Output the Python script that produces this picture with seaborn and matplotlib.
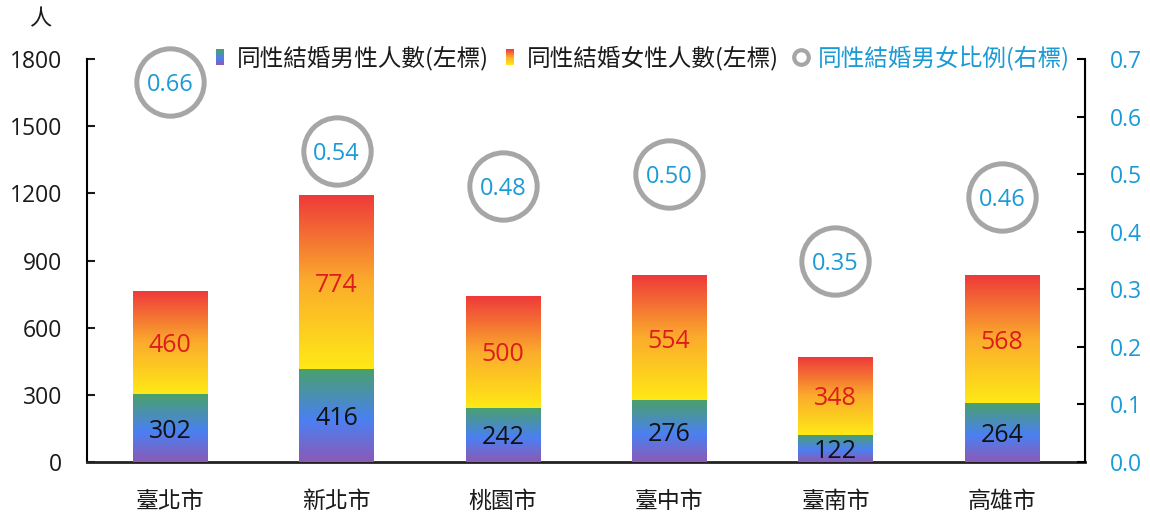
import numpy as np
import pandas as pd
import matplotlib
matplotlib.use("Agg")
import matplotlib.pyplot as plt
from matplotlib.colors import LinearSegmentedColormap
from matplotlib.patches import Rectangle
from matplotlib.lines import Line2D
from matplotlib.legend_handler import HandlerBase
import seaborn as sns

# ---- data ----
cities = ["臺北市", "新北市", "桃園市", "臺中市", "臺南市", "高雄市"]
male = [302, 416, 242, 276, 122, 264]
female = [460, 774, 500, 554, 348, 568]
ratio = [0.66, 0.54, 0.48, 0.50, 0.35, 0.46]
left_ticks = [0, 300, 600, 900, 1200, 1500, 1800]
right_ticks = [0.0, 0.1, 0.2, 0.3, 0.4, 0.5, 0.6, 0.7]
legend_labels = ["同性結婚男性人數(左標)", "同性結婚女性人數(左標)", "同性結婚男女比例(右標)"]
unit_label = "人"

df = pd.DataFrame({"city": cities, "male": male, "female": female, "ratio": ratio})
df["total"] = df["male"] + df["female"]

sns.set_style("white")
plt.rcParams["font.family"] = ["Open Sans", "Noto Sans CJK TC", "DejaVu Sans"]
CJK = ["Noto Sans CJK TC", "DejaVu Sans"]

BLUE = "#1a9ad6"
GREY = "#a6a6a6"
RED_TXT = "#dd1c1c"

male_cmap = LinearSegmentedColormap.from_list(
    "male", [(0.0, "#8b5ab6"), (0.45, "#4b80f2"), (1.0, "#49a16a")])
female_cmap = LinearSegmentedColormap.from_list(
    "female", [(0.0, "#ffe916"), (0.5, "#fbac2c"), (1.0, "#ee3a3a")])

fig = plt.figure(figsize=(11.5, 5.13), dpi=100)
ax = fig.add_axes([87 / 1150, 1 - 462 / 513, (1085 - 87) / 1150, (462 - 59) / 513])

bar_w = 0.445
sns.barplot(data=df, x="city", y="total", color="#fbac2c", width=bar_w,
            saturation=1, ax=ax, zorder=2)
sns.barplot(data=df, x="city", y="male", color="#4b80f2", width=bar_w,
            saturation=1, ax=ax, zorder=2)

total_patches = ax.patches[:len(cities)]
male_patches = ax.patches[len(cities):2 * len(cities)]

# gradient fills laid over each bar segment
grad = np.linspace(0, 1, 256).reshape(-1, 1)
for tp, mp in zip(total_patches, male_patches):
    x0, w = tp.get_x(), tp.get_width()
    m_top = mp.get_height()
    t_top = tp.get_height()
    ax.imshow(grad, cmap=male_cmap, extent=[x0, x0 + w, 0, m_top],
              origin="lower", aspect="auto", zorder=3, interpolation="bilinear")
    ax.imshow(grad, cmap=female_cmap, extent=[x0, x0 + w, m_top, t_top],
              origin="lower", aspect="auto", zorder=3, interpolation="bilinear")

# value labels inside the segments
for i, row in df.iterrows():
    ax.text(i, row["male"] / 2, f"{row['male']}", ha="center",
            va="center_baseline", fontsize=18, color="#111111", zorder=5)
    ax.text(i, row["male"] + row["female"] / 2, f"{row['female']}", ha="center",
            va="center_baseline", fontsize=18, color=RED_TXT, zorder=5)

ax.set_xlim(-0.5, len(cities) - 0.5)
ax.set_ylim(0, 1800)
ax.set_yticks(left_ticks)
ax.set_yticklabels([str(t) for t in left_ticks])
ax.set_xlabel("")
ax.set_ylabel("")
ax.tick_params(axis="y", direction="in", length=6, width=1.5, pad=18,
               labelsize=16.5, colors="#1a1a1a", left=True)
ax.tick_params(axis="x", length=0, pad=20, labelsize=16.5, colors="#1a1a1a")
for lab in ax.get_xticklabels():
    lab.set_fontfamily(CJK)

ax.spines["top"].set_visible(False)
ax.spines["left"].set_color("#000000")
ax.spines["left"].set_linewidth(1.5)
ax.spines["bottom"].set_color("#222222")
ax.spines["bottom"].set_linewidth(2)

# ratio axis
ax2 = ax.twinx()
ax2.set_ylim(0, 0.7)
sns.scatterplot(x=np.arange(len(cities)), y=df["ratio"], ax=ax2, s=2350,
                facecolor="white", edgecolor=GREY, linewidth=3.6, zorder=4,
                legend=False, clip_on=False)
for i, r in enumerate(ratio):
    ax2.text(i, r, f"{r:.2f}", ha="center", va="center_baseline", fontsize=17,
             color=BLUE, zorder=6)
ax2.set_yticks(right_ticks)
ax2.set_yticklabels([f"{t:.1f}" for t in right_ticks])
ax2.tick_params(axis="y", direction="in", length=6, width=1.5, pad=18,
                labelsize=16.5, colors=BLUE, right=True)
ax2.tick_params(axis="y", color="#000000")
ax2.set_ylabel("")
for side in ["top", "left", "bottom"]:
    ax2.spines[side].set_visible(False)
ax2.spines["right"].set_color("#000000")
ax2.spines["right"].set_linewidth(1.5)
ax2.set_xlim(-0.5, len(cities) - 0.5)


# legend with gradient swatches
class GradientSwatch:
    def __init__(self, cmap):
        self.cmap = cmap


class HandlerGradient(HandlerBase):
    def create_artists(self, legend, orig_handle, xdescent, ydescent, width,
                       height, fontsize, trans):
        n = 24
        arts = []
        for k in range(n):
            c = orig_handle.cmap((k + 0.5) / n)
            r = Rectangle((-xdescent, -ydescent + height * k / n), width,
                          height / n + 0.3, facecolor=c, edgecolor="none",
                          transform=trans)
            arts.append(r)
        return arts


handles = [GradientSwatch(male_cmap), GradientSwatch(female_cmap),
           Line2D([], [], linestyle="none", marker="o", markersize=10.5,
                  markerfacecolor="white", markeredgecolor=GREY,
                  markeredgewidth=3)]
leg = ax2.legend(handles, legend_labels, ncol=3, frameon=False,
                 loc="center left", bbox_to_anchor=(216 / 1150, 1 - 58 / 513),
                 bbox_transform=fig.transFigure, fontsize=17,
                 handlelength=0.33, handleheight=0.63, handletextpad=0.55,
                 columnspacing=0.75, borderpad=0, borderaxespad=0,
                 handler_map={GradientSwatch: HandlerGradient()})
for t in leg.get_texts():
    t.set_fontfamily(CJK)
    t.set_color("#1a1a1a")
leg.get_texts()[2].set_color(BLUE)

fig.text(40 / 1150, 1 - 19 / 513, unit_label, ha="center", va="center",
         fontsize=16, color="#1a1a1a", family=CJK)

fig.savefig("out.png", dpi=100)
